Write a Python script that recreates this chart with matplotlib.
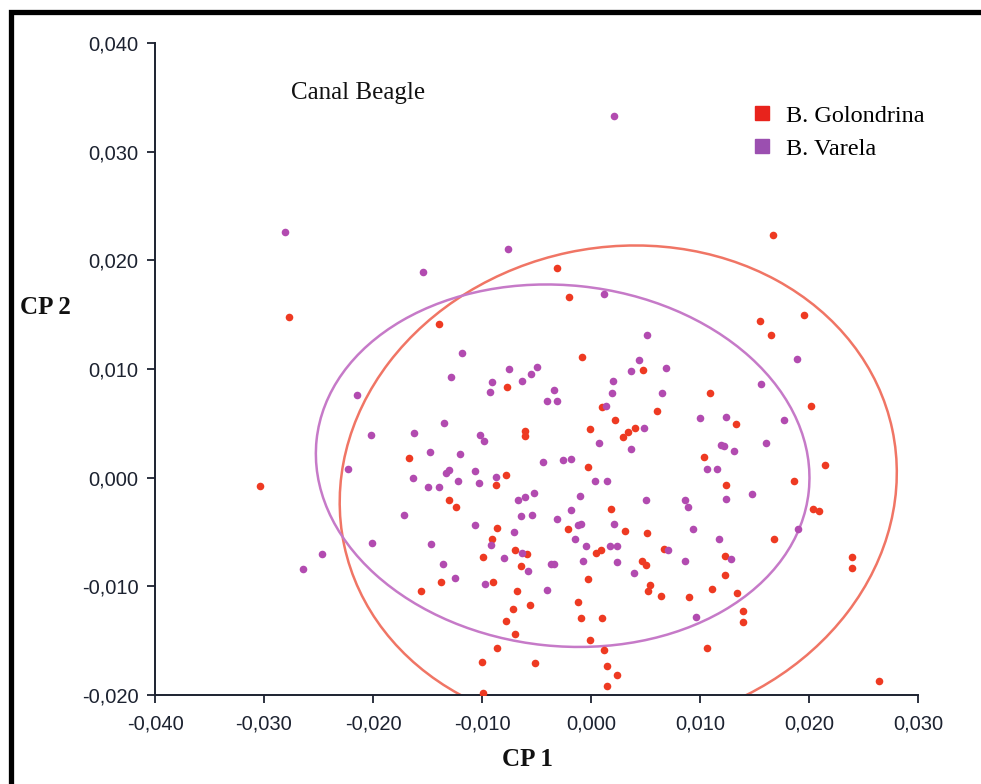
import matplotlib
matplotlib.use("Agg")
import matplotlib.pyplot as plt
from matplotlib.patches import Ellipse, Rectangle
from matplotlib.lines import Line2D
from matplotlib.ticker import FuncFormatter, MultipleLocator

# scores on the first two principal components (x 0.001)
golondrina_x = [-30.4, -27.7, -13.9, -3.1, -2.0, -0.8, 16.7, 19.5, 15.5, 16.5,
                20.2, 10.9, 13.3, 10.4, 21.5, 18.6, 12.4, -7.7, 4.8, 1.0,
                6.1, 2.2, -0.1, 2.9, 3.4, 4.0, -6.1, -6.1, -0.3, -7.8,
                -8.7, 1.8, -16.7, -13.0, -12.4, -8.6, -9.1, -9.9, -13.8, -15.6,
                -9.0, -8.6, -10.0, -9.9, -2.1, 3.1, 5.1, -7.0, -5.9, 0.5,
                0.9, 6.7, -6.4, 4.7, 5.0, 12.3, -0.3, 12.3, -6.8, 5.4,
                5.2, 6.4, 9.0, 11.1, 13.4, 13.9, 13.9, -5.6, -1.2, -7.2,
                -7.8, -7.0, -0.9, 1.0, -0.1, -5.1, 1.2, 1.5, 2.4, 1.5,
                10.6, 26.4, 20.4, 20.9, 16.8, 23.9, 23.9]
golondrina_y = [-0.8, 14.8, 14.1, 19.3, 16.6, 11.1, 22.3, 15.0, 14.4, 13.1,
                6.6, 7.8, 4.9, 1.9, 1.2, -0.3, -0.7, 8.3, 9.9, 6.5,
                6.1, 5.3, 4.5, 3.7, 4.2, 4.6, 4.3, 3.8, 1.0, 0.2,
                -0.7, -2.9, 1.8, -2.1, -2.7, -4.6, -5.6, -7.3, -9.6, -10.4,
                -9.6, -15.7, -17.0, -19.8, -4.7, -4.9, -5.1, -6.7, -7.0, -6.9,
                -6.7, -6.6, -8.1, -7.7, -8.0, -7.2, -9.3, -9.0, -10.4, -9.9,
                -10.4, -10.9, -11.0, -10.2, -10.6, -12.3, -13.3, -11.7, -11.4, -12.1,
                -13.2, -14.4, -12.9, -12.9, -14.9, -17.1, -15.9, -17.3, -18.2, -19.2,
                -15.7, -18.7, -2.9, -3.1, -5.6, -7.3, -8.3]

varela_x = [2.1, -28.1, -15.4, -7.6, 1.2, 5.1, -11.8, -12.8, -9.1, -9.3,
            -21.5, -13.5, -16.2, -20.2, -10.2, -9.8, -7.5, -5.0, -5.5, -6.3,
            -3.4, -4.0, -3.1, 4.4, 3.7, 6.9, 2.0, 1.9, 6.5, 1.4,
            4.9, 0.7, 3.7, 18.9, 15.6, 17.7, 12.4, 10.0, 16.1, 11.9,
            13.1, 12.2, 10.6, 11.6, 14.8, 12.4, -4.4, -2.6, -1.8, -8.7,
            0.4, 1.5, -5.2, -6.7, -6.1, -1.0, 5.0, 8.6, 8.9, -1.8,
            -14.8, -12.0, -22.3, -13.0, -13.3, -16.3, -12.2, -10.6, -10.3, -15.0,
            -13.9, -17.2, -10.6, -20.1, -14.7, -9.2, -24.7, -26.4, -13.6, -12.5,
            -9.7, -6.4, -5.4, -3.1, -0.9, -1.2, 2.1, 9.4, -7.1, -1.5,
            -0.5, -6.3, 1.7, 2.4, 7.1, -8.0, -5.8, -3.7, -3.4, -0.7,
            2.4, 8.6, 12.8, 3.9, -4.0, 9.6, 19.0, 11.7]
varela_y = [33.3, 22.6, 18.9, 21.0, 16.9, 13.1, 11.5, 9.3, 8.8, 7.9,
            7.6, 5.0, 4.1, 3.9, 3.9, 3.4, 10.0, 10.2, 9.5, 8.9,
            8.1, 7.1, 7.1, 10.8, 9.8, 10.1, 8.9, 7.8, 7.8, 6.6,
            4.6, 3.2, 2.6, 10.9, 8.6, 5.3, 5.6, 5.5, 3.2, 3.0,
            2.5, 2.9, 0.8, 0.8, -1.5, -2.0, 1.4, 1.6, 1.7, 0.1,
            -0.3, -0.3, -1.4, -2.1, -1.8, -1.7, -2.1, -2.1, -2.7, -3.0,
            2.4, 2.2, 0.8, 0.7, 0.4, 0.0, -0.3, 0.6, -0.5, -0.9,
            -0.9, -3.4, -4.4, -6.0, -6.1, -6.2, -7.0, -8.4, -7.9, -9.2,
            -9.8, -3.5, -3.4, -3.8, -4.3, -4.4, -4.3, -4.7, -5.0, -5.6,
            -6.3, -6.9, -6.3, -6.3, -6.7, -7.4, -8.6, -7.9, -7.9, -7.7,
            -7.8, -7.7, -7.5, -8.8, -10.3, -12.8, -4.7, -5.6]

# 95% ellipses (center x, center y, full width, full height, angle) in x 0.001
golondrina_ell = (2.5, -0.9, 51.4, 44.2, 12)
varela_ell = (-2.6, 1.1, 45.4, 33.2, -6)

red = "#ee3a22"
purple = "#b24bb0"

fig = plt.figure(figsize=(9.81, 7.84), dpi=100)
ax = fig.add_axes([155 / 981, 1 - 695 / 784, (918 - 155) / 981, (695 - 43) / 784])

gx = [v / 1000 for v in golondrina_x]
gy = [v / 1000 for v in golondrina_y]
vx = [v / 1000 for v in varela_x]
vy = [v / 1000 for v in varela_y]

ax.scatter(gx, gy, s=30, color=red, linewidths=0, zorder=3)
ax.scatter(vx, vy, s=30, color=purple, linewidths=0, zorder=3)

for (cx, cy, w, h, ang), col in [(golondrina_ell, "#f07565"), (varela_ell, "#c67ac8")]:
    e = Ellipse((cx / 1000, cy / 1000), w / 1000, h / 1000, angle=ang,
                fill=False, ec=col, lw=1.8, zorder=2)
    ax.add_patch(e)

ax.set_xlim(-0.040, 0.030)
ax.set_ylim(-0.020, 0.040)
ax.xaxis.set_major_locator(MultipleLocator(0.010))
ax.yaxis.set_major_locator(MultipleLocator(0.010))

fmt = FuncFormatter(lambda v, _: ("%.3f" % (0.0 if abs(v) < 1e-9 else v)).replace(".", ","))
ax.xaxis.set_major_formatter(fmt)
ax.yaxis.set_major_formatter(fmt)

for s in ["top", "right"]:
    ax.spines[s].set_visible(False)
for s in ["left", "bottom"]:
    ax.spines[s].set_color("#1c2230")
    ax.spines[s].set_linewidth(1.4)
ax.tick_params(direction="out", length=6, width=1.3, color="#1c2230",
               labelsize=14.5, labelcolor="#1c2230")
ax.tick_params(axis="y", pad=6)
ax.tick_params(axis="x", pad=8)
for lab in ax.get_xticklabels() + ax.get_yticklabels():
    lab.set_family("Liberation Sans")

ax.text(0.178, 0.923, "Canal Beagle", transform=ax.transAxes, family="Liberation Serif",
        fontsize=18, color="#111111", va="center", ha="left")

handles = [Line2D([], [], ls="none", marker="s", ms=10.5, color="#e8231c"),
           Line2D([], [], ls="none", marker="s", ms=9.5, color="#9b4fb0")]
ax.legend(handles, ["B. Golondrina", "B. Varela"], loc="upper left",
          bbox_to_anchor=(0.77, 0.92), frameon=False, handlelength=0.8,
          handletextpad=0.6, labelspacing=0.45, borderaxespad=0,
          prop={"family": "Liberation Serif", "size": 17.5})

fig.text(20 / 981, 1 - 307 / 784, "CP 2", family="Liberation Serif", weight="bold",
         fontsize=18, va="center", ha="left", color="#111111")
fig.text(527 / 981, 1 - 760 / 784, "CP 1", family="Liberation Serif", weight="bold",
         fontsize=18, va="center", ha="center", color="#111111")

# frame around the picture
fig.patches.append(Rectangle((10.5 / 981, -0.05), 1.1, 1 - 11.5 / 784 + 0.05,
                             transform=fig.transFigure, fill=False, ec="black", lw=3.8))

fig.savefig("out.png", dpi=100)
